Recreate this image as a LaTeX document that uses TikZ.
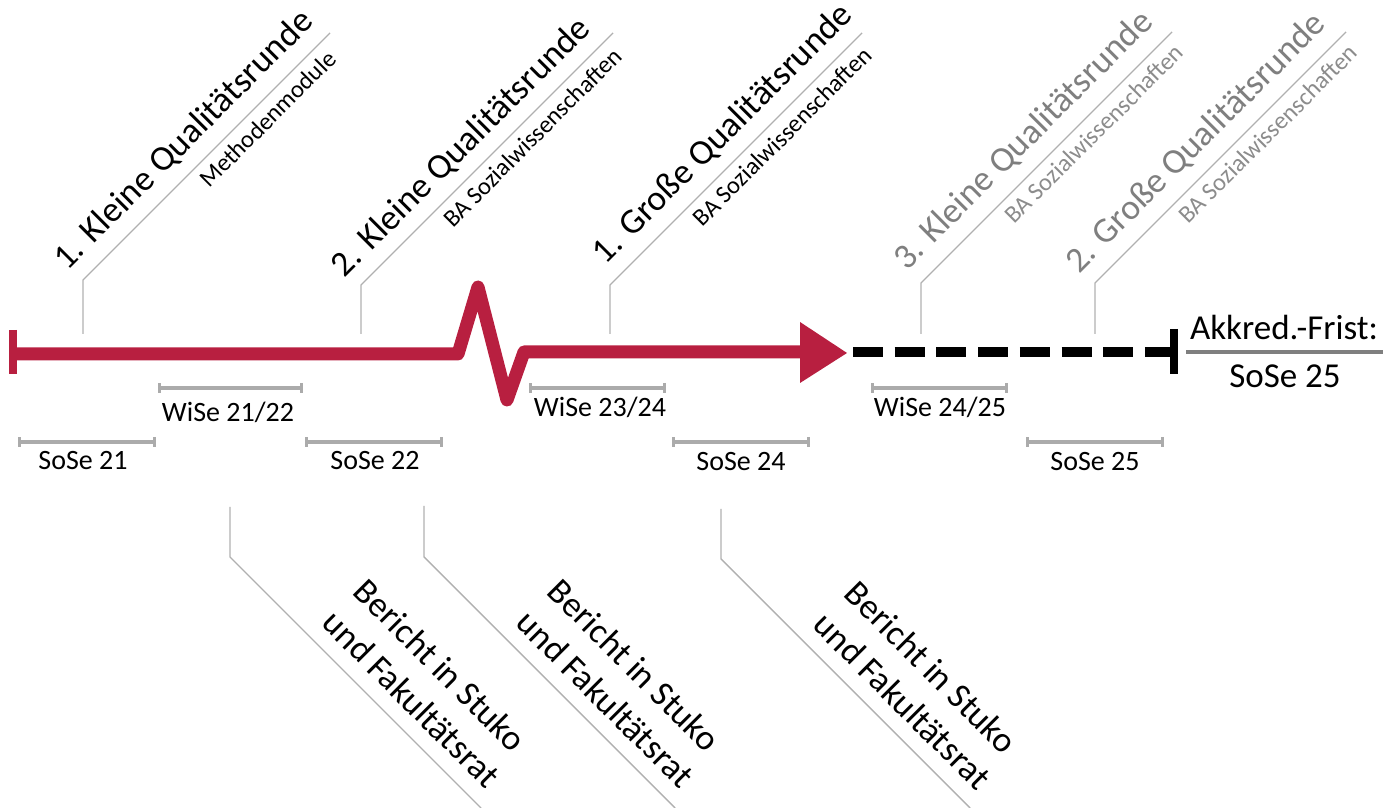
\documentclass[tikz,border=0pt]{standalone}
\usepackage{fontspec}
\setmainfont{Carlito}
\usetikzlibrary{calc,arrows.meta}
\definecolor{tlred}{HTML}{B81F40}
\definecolor{lngray}{HTML}{B0B0B0}
\definecolor{bargray}{HTML}{ABABAB}
\definecolor{txgray}{HTML}{7F7F7F}
\definecolor{subgray}{HTML}{8C8C8C}
\begin{document}
\begin{tikzpicture}[x=1pt,y=1pt,
  conn/.style={draw=lngray, line width=1.4pt},
  titletxt/.style={font=\fontsize{35.5}{40}\selectfont, rotate=45, anchor=base west, inner sep=0pt},
  subtxt/.style={font=\fontsize{24.5}{28}\selectfont, rotate=45, anchor=base west, inner sep=0pt},
  semlbl/.style={font=\fontsize{28}{30}\selectfont, anchor=base, inner sep=0pt},
  sembar/.style={draw=bargray, line width=3.2pt, {Bar[width=10pt]}-{Bar[width=10pt]}},
  btxt/.style={font=\fontsize{35.5}{44}\selectfont, rotate=-45, anchor=north west, align=left, inner sep=0pt},
  bigtxt/.style={font=\fontsize{35}{40}\selectfont, anchor=base, inner sep=0pt}]
\useasboundingbox (0,0) rectangle (1390,808);

% ---------- main timeline ----------
\coordinate (sb1) at (13,478);
\coordinate (sb2) at (13,434);
\coordinate (rs) at (13,454);
\coordinate (z1) at (458,454);
\coordinate (z2) at (478,521);
\coordinate (z3) at (507,408);
\coordinate (z4) at (524,456);
\coordinate (ae) at (801,456);
\coordinate (ah1) at (800,486);
\coordinate (aht) at (847,455);
\coordinate (ah2) at (800,425);
\draw[tlred, line width=8pt] (sb1) -- (sb2);
\draw[tlred, line width=13pt, line join=round] (rs) -- (z1) -- (z2) -- (z3) -- (z4) -- (ae);
\fill[tlred] (ah1) -- (aht) -- (ah2) -- cycle;

\coordinate (ds) at (853,456);
\coordinate (de) at (1170,456);
\coordinate (eb1) at (1174,479);
\coordinate (eb2) at (1174,434);
\draw[black, line width=10pt, dash pattern=on 30pt off 11.7pt] (ds) -- (de);
\draw[black, line width=8pt] (eb1) -- (eb2);

% ---------- deadline ----------
\node[bigtxt] (ak1) at (1284,468) {Akkred.-Frist:};
\coordinate (al1) at (1186,456);
\coordinate (al2) at (1383,456);
\draw[draw=txgray, line width=3.5pt] (al1) -- (al2);
\node[bigtxt] (ak2) at (1285,420) {SoSe 25};

% ---------- top connectors ----------
\coordinate (c1b) at (83,474);  \coordinate (c1c) at (83,528);  \coordinate (c1e) at ($(c1c)+(247,247)$);
\coordinate (c2b) at (361,474); \coordinate (c2c) at (361,523); \coordinate (c2e) at ($(c2c)+(252,252)$);
\coordinate (c3b) at (610,474); \coordinate (c3c) at (610,523); \coordinate (c3e) at ($(c3c)+(252,252)$);
\coordinate (c4b) at (921,474); \coordinate (c4c) at (921,525); \coordinate (c4e) at ($(c4c)+(251,251)$);
\coordinate (c5b) at (1095,474);\coordinate (c5c) at (1095,525);\coordinate (c5e) at ($(c5c)+(251,251)$);
\foreach \i in {1,...,5} {\draw[conn] (c\i b) -- (c\i c) -- (c\i e);}

\path (c1c) ++(45:-5) ++(135:17.5) node[titletxt] (t1) {1. Kleine Qualitätsrunde};
\path (c2c) ++(45:-7) ++(135:16) node[titletxt] (t2) {2. Kleine Qualitätsrunde};
\path (c3c) ++(45:11) ++(135:17) node[titletxt] (t3) {1. Große Qualitätsrunde};
\path (c4c) ++(45:-2) ++(135:18) node[titletxt, text=txgray] (t4) {3. Kleine Qualitätsrunde};
\path (c5c) ++(45:-5) ++(135:17.5) node[titletxt, text=txgray] (t5) {2. Große Qualitätsrunde};

\path (c1c) ++(45:154) ++(-45:25) node[subtxt] (s1) {Methodenmodule};
\path (c2c) ++(45:105) ++(-45:25) node[subtxt] (s2) {BA Sozialwissenschaften};
\path (c3c) ++(45:106) ++(-45:25) node[subtxt] (s3) {BA Sozialwissenschaften};
\path (c4c) ++(45:107) ++(-45:25) node[subtxt, text=subgray] (s4) {BA Sozialwissenschaften};
\path (c5c) ++(45:107) ++(-45:25) node[subtxt, text=subgray] (s5) {BA Sozialwissenschaften};

% ---------- semesters ----------
\coordinate (w1a) at (158,420); \coordinate (w1b) at (303,420);
\coordinate (w2a) at (529,420); \coordinate (w2b) at (666,420);
\coordinate (w3a) at (871,420); \coordinate (w3b) at (1008,420);
\coordinate (o1a) at (18,366);  \coordinate (o1b) at (156,366);
\coordinate (o2a) at (305,366); \coordinate (o2b) at (443,366);
\coordinate (o3a) at (672,366); \coordinate (o3b) at (810,366);
\coordinate (o4a) at (1026,366);\coordinate (o4b) at (1164,366);
\foreach \s in {w1,w2,w3,o1,o2,o3,o4} {\draw[sembar] (\s a) -- (\s b);}

\node[semlbl] (w1l) at (228,386) {WiSe 21/22};
\node[semlbl] (w2l) at (600,391) {WiSe 23/24};
\node[semlbl] (w3l) at (940,391) {WiSe 24/25};
\node[semlbl] (o1l) at (83,338) {SoSe 21};
\node[semlbl] (o2l) at (375,338) {SoSe 22};
\node[semlbl] (o3l) at (741,337) {SoSe 24};
\node[semlbl] (o4l) at (1095,337) {SoSe 25};

% ---------- bottom connectors ----------
\coordinate (b1t) at (230,301); \coordinate (b1c) at (230,251); \coordinate (b1e) at (481,0);
\coordinate (b2t) at (424,302); \coordinate (b2c) at (424,251); \coordinate (b2e) at (675,0);
\coordinate (b3t) at (721,299); \coordinate (b3c) at (721,249); \coordinate (b3e) at (970,0);
\foreach \i in {1,2,3} {\draw[conn] (b\i t) -- (b\i c) -- (b\i e);}

\path (b1c) ++(-45:112) ++(45:85) node[btxt] (r1) {Bericht in Stuko\\und Fakultätsrat};
\path (b2c) ++(-45:112) ++(45:85) node[btxt] (r2) {Bericht in Stuko\\und Fakultätsrat};
\path (b3c) ++(-45:112) ++(45:85) node[btxt] (r3) {Bericht in Stuko\\und Fakultätsrat};
\end{tikzpicture}
\end{document}
